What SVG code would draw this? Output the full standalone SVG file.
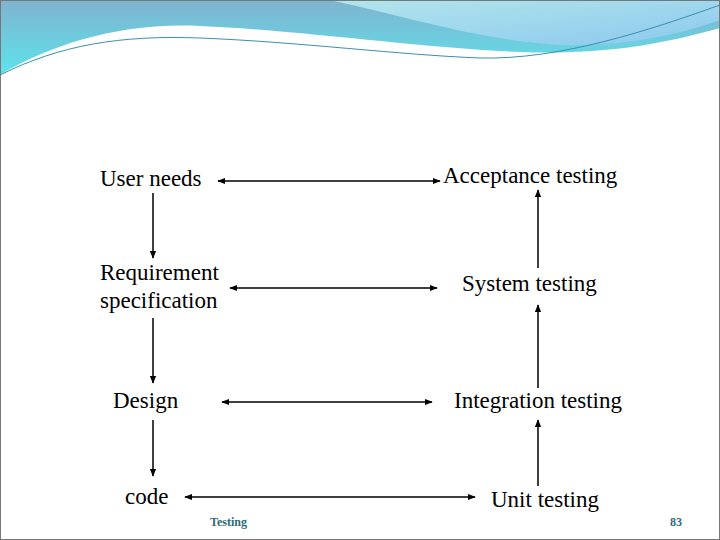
<svg xmlns="http://www.w3.org/2000/svg" width="720" height="540" viewBox="0 0 720 540">
<defs>
<linearGradient id="g1" x1="0" y1="0" x2="0" y2="1"><stop offset="0" stop-color="#7fb3cf"/><stop offset="1" stop-color="#5ee3ec"/></linearGradient>
<linearGradient id="g2" x1="0" y1="0" x2="1" y2="1"><stop offset="0" stop-color="#b2e6ec"/><stop offset="1" stop-color="#8cc8ee"/></linearGradient>
<marker id="ah" viewBox="0 0 10 10" refX="9" refY="5" markerWidth="8" markerHeight="8" markerUnits="userSpaceOnUse" orient="auto-start-reverse"><path d="M0,1 L10,5 L0,9 Z" fill="#000"/></marker>
<style>
.t{font-size:23px;fill:#000}
.c line{stroke:#000;stroke-width:1.5}
.f{font-size:12px;fill:#2e6b78;font-weight:bold}
</style>
</defs>
<rect width="720" height="540" fill="#fff"/>
<path d="M0,0 H720 V28 C660,45 600,55 520,52 C420,48 300,30 200,26 C120,22 50,45 0,75 Z" fill="url(#g1)"/>
<path d="M330,0 H720 V20 C680,35 620,47 560,45 C480,40 420,20 330,0 Z" fill="url(#g2)"/>
<path d="M0,75 C60,45 120,35 200,38 C300,42 400,55 480,58 C560,60 650,30 720,5" fill="none" stroke="#3a8fb0" stroke-width="1"/>
<rect x="0.5" y="0.5" width="719" height="539" fill="none" stroke="#777" stroke-width="1"/>
<g class="c">
<line x1="218" y1="181" x2="440" y2="181" marker-start="url(#ah)" marker-end="url(#ah)"/>
<line x1="230" y1="288" x2="437" y2="288" marker-start="url(#ah)" marker-end="url(#ah)"/>
<line x1="222" y1="402" x2="432" y2="402" marker-start="url(#ah)" marker-end="url(#ah)"/>
<line x1="185" y1="497" x2="475" y2="497" marker-start="url(#ah)" marker-end="url(#ah)"/>
<line x1="153" y1="193" x2="153" y2="258" marker-end="url(#ah)"/>
<line x1="153" y1="318" x2="153" y2="383" marker-end="url(#ah)"/>
<line x1="153" y1="420" x2="153" y2="476" marker-end="url(#ah)"/>
<line x1="538" y1="268" x2="538" y2="190" marker-end="url(#ah)"/>
<line x1="538" y1="388" x2="538" y2="305" marker-end="url(#ah)"/>
<line x1="538" y1="486" x2="538" y2="420" marker-end="url(#ah)"/>
</g>
<g font-family="'Liberation Serif','DejaVu Serif',serif">
<g id="user"><text class="t" x="100" y="186">User needs</text></g>
<g id="req"><text class="t" x="100" y="280">Requirement</text><text class="t" x="100" y="308">specification</text></g>
<g id="design"><text class="t" x="113" y="408">Design</text></g>
<g id="code"><text class="t" x="125" y="504">code</text></g>
<g id="acc"><text class="t" x="443" y="183">Acceptance testing</text></g>
<g id="sys"><text class="t" x="462" y="291">System testing</text></g>
<g id="int"><text class="t" x="454" y="408">Integration testing</text></g>
<g id="unit"><text class="t" x="491" y="507">Unit testing</text></g>
<text class="f" x="210" y="526">Testing</text>
<text class="f" x="670" y="526">83</text>
</g>
</svg>
